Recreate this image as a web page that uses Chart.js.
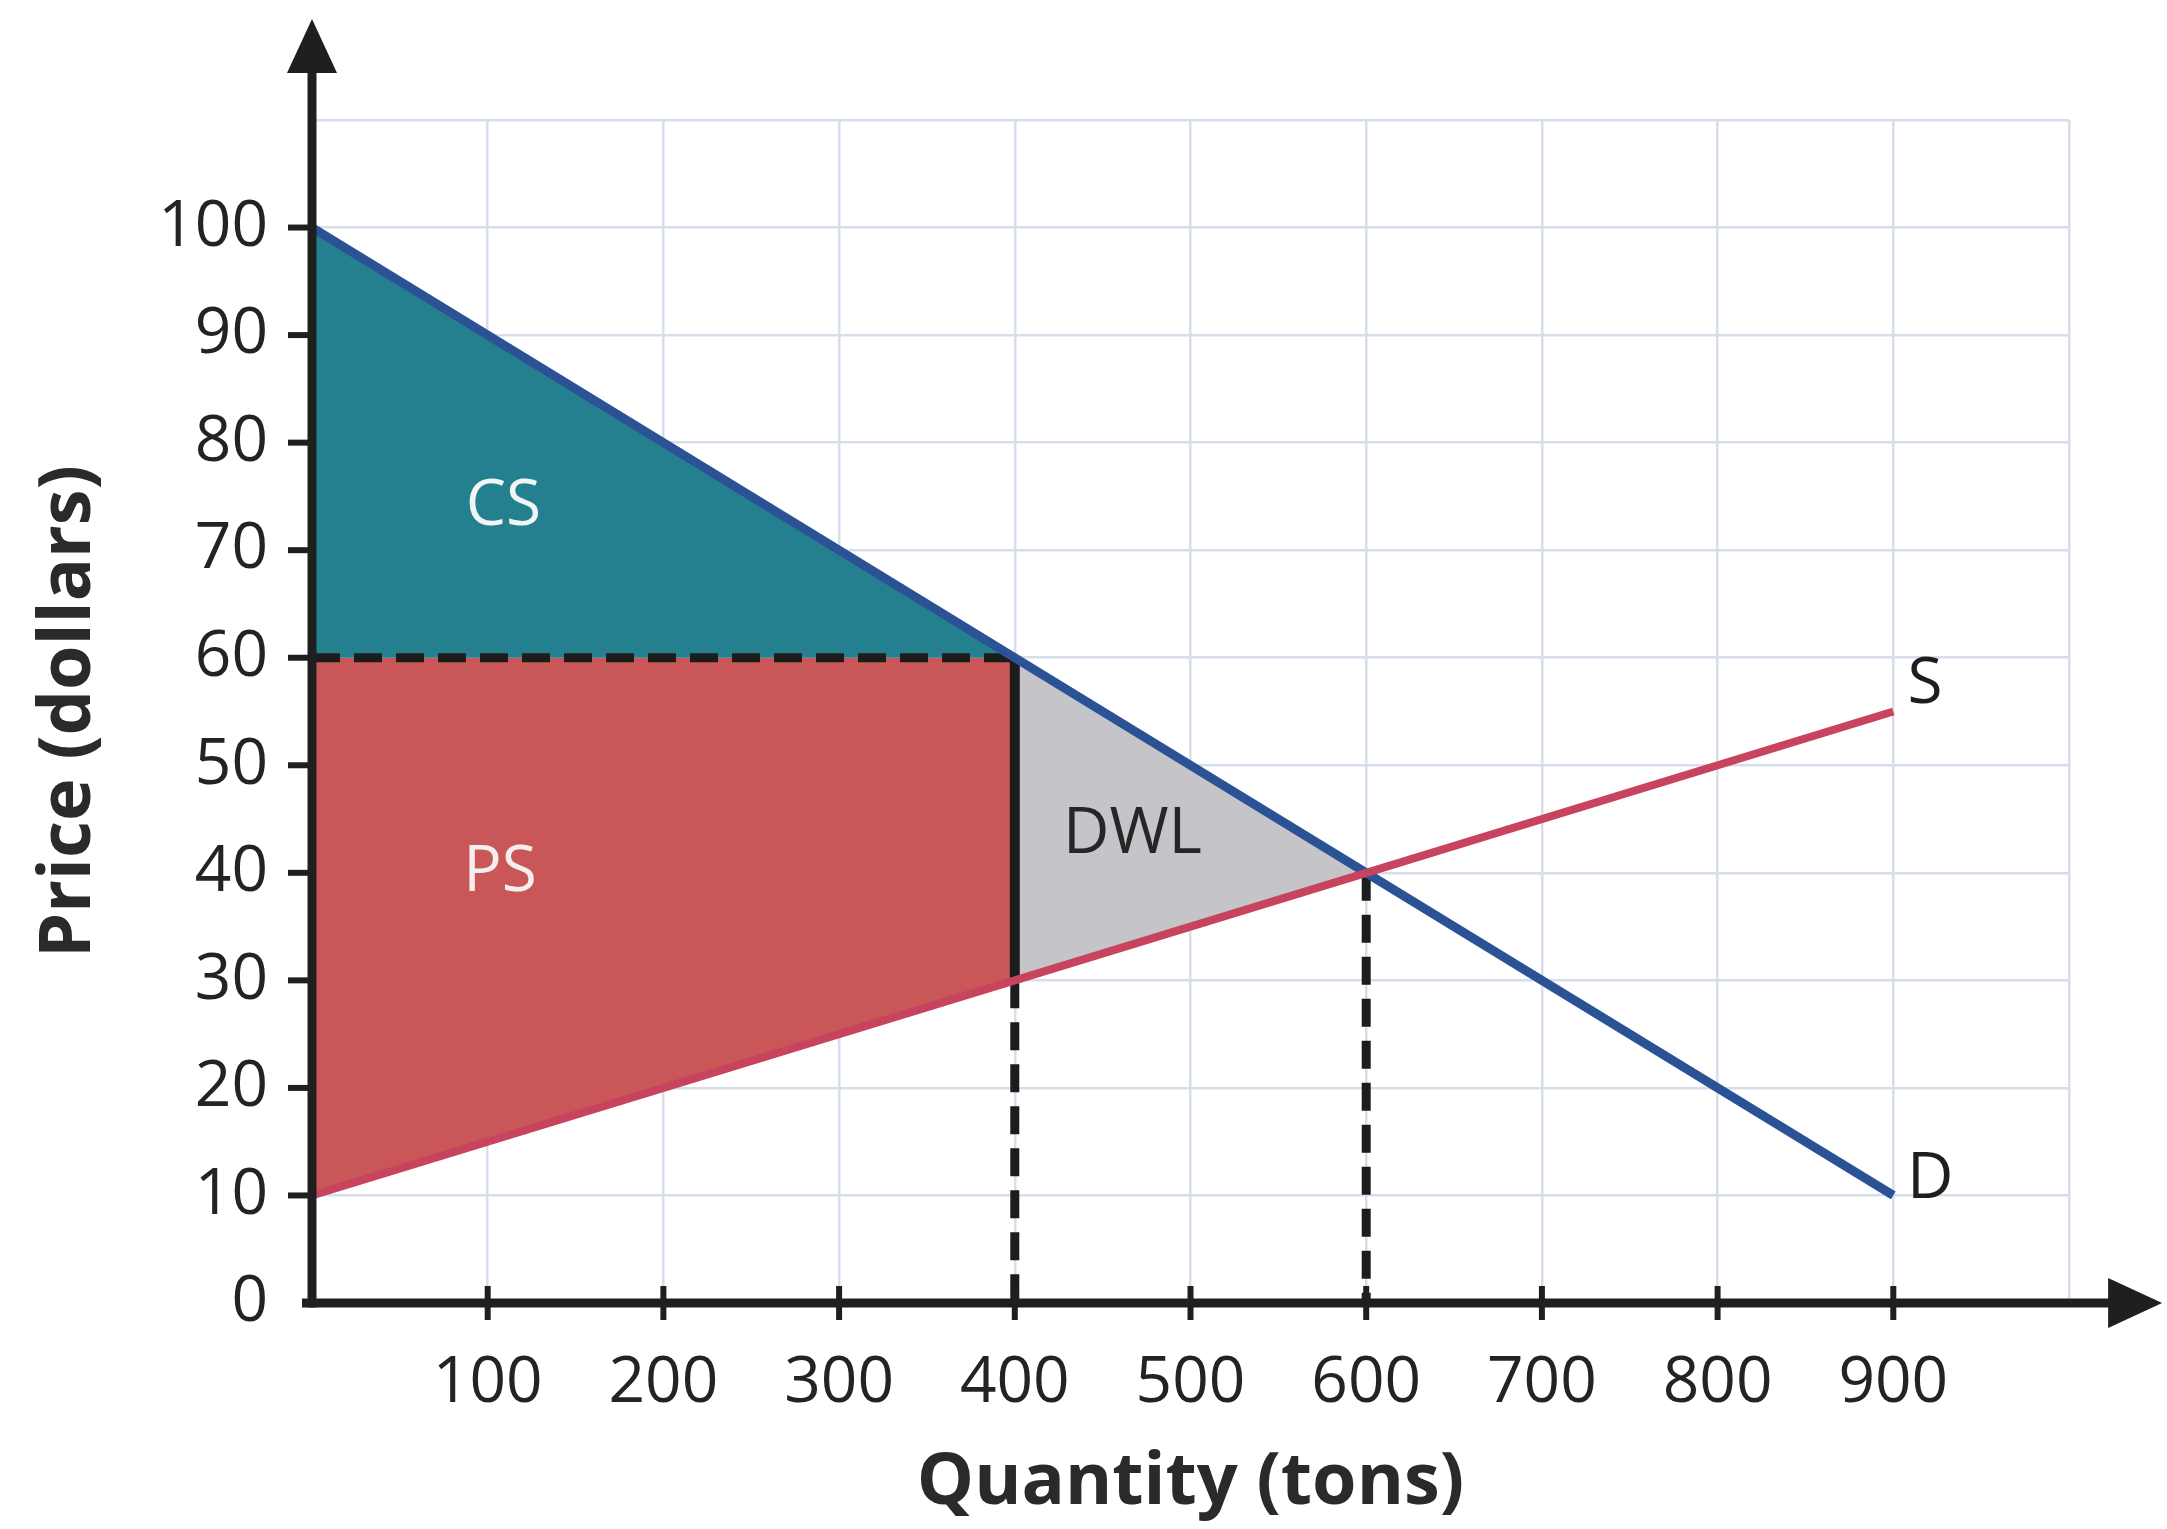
<!DOCTYPE html>
<html>
<head>
<meta charset="utf-8">
<script src="https://cdn.jsdelivr.net/npm/chart.js@4.4.1/dist/chart.umd.min.js"></script>
<style>
  html, body { margin: 0; padding: 0; background: #ffffff; }
  #wrap { width: 2167px; height: 1529px; }
</style>
</head>
<body>
<div id="wrap"><canvas id="chart" width="2167" height="1529"></canvas></div>
<script>
// Market with a production quota: demand, supply and the surplus areas.
const quantityTicks = [100, 200, 300, 400, 500, 600, 700, 800, 900];
const priceTicks = [0, 10, 20, 30, 40, 50, 60, 70, 80, 90, 100];

const demandQty = [0, 400, 600, 900];
const demandPrice = [100, 60, 40, 10];
const supplyQty = [0, 400, 600, 900];
const supplyPrice = [10, 30, 40, 55];

const quotaQty = 400;          // quantity allowed under the quota
const buyerPrice = 60;         // price buyers pay at the quota
const sellerCost = 30;         // supply price at the quota
const equilibriumQty = 600;
const equilibriumPrice = 40;

const regionNames = ['CS', 'PS', 'DWL', 'S', 'D'];
const regionQty = [109, 107, 467, 918, 921];
const regionPrice = [74, 40, 43.5, 57.5, 11.5];
const regionInk = ['#f1f5f5', '#f4eeee', '#262626', '#1e1e1e', '#1e1e1e'];

const AXIS_END_QTY = 1053;
const AXIS_END_PRICE = 119.4;

const pts = (xs, ys) => xs.map((x, i) => ({ x, y: ys[i] }));
const pick = (xs, ys, lo, hi) => pts(xs, ys).filter(p => p.x >= lo && p.x <= hi);

const TEXT = '#232323';
const FONT = '"Open Sans", "Liberation Sans", sans-serif';

const axesPlugin = {
  id: 'axesPlugin',
  afterDatasetsDraw(chart) {
    const { ctx, scales: { x, y } } = chart;
    const x0 = x.getPixelForValue(0);
    const y0 = y.getPixelForValue(0);
    const xTip = x.getPixelForValue(AXIS_END_QTY);
    const yTip = y.getPixelForValue(AXIS_END_PRICE);
    ctx.save();
    ctx.strokeStyle = '#1f1f1f';
    ctx.fillStyle = '#1f1f1f';
    ctx.lineCap = 'butt';

    // tick marks
    ctx.lineWidth = 6;
    quantityTicks.forEach(v => {
      const px = x.getPixelForValue(v);
      ctx.beginPath(); ctx.moveTo(px, y0 - 17); ctx.lineTo(px, y0 + 17); ctx.stroke();
    });
    priceTicks.forEach(v => {
      if (v === 0) return;
      const py = y.getPixelForValue(v);
      ctx.beginPath(); ctx.moveTo(x0 - 24, py); ctx.lineTo(x0, py); ctx.stroke();
    });

    // axis lines
    ctx.lineWidth = 9;
    const head = 54, half = 25;
    ctx.beginPath();
    ctx.moveTo(x0, y0 + 4.5);
    ctx.lineTo(x0, yTip + head - 2);
    ctx.stroke();
    ctx.beginPath();
    ctx.moveTo(x0 - 10, y0);
    ctx.lineTo(xTip - head + 2, y0);
    ctx.stroke();

    // arrow heads
    ctx.beginPath();
    ctx.moveTo(x0, yTip);
    ctx.lineTo(x0 - half, yTip + head);
    ctx.lineTo(x0 + half, yTip + head);
    ctx.closePath(); ctx.fill();
    ctx.beginPath();
    ctx.moveTo(xTip, y0);
    ctx.lineTo(xTip - head, y0 - half);
    ctx.lineTo(xTip - head, y0 + half);
    ctx.closePath(); ctx.fill();

    // region and curve labels
    ctx.font = '64px ' + FONT;
    ctx.textAlign = 'center';
    ctx.textBaseline = 'middle';
    regionNames.forEach((name, i) => {
      ctx.fillStyle = regionInk[i];
      ctx.fillText(name, x.getPixelForValue(regionQty[i]), y.getPixelForValue(regionPrice[i]));
    });
    ctx.restore();
  }
};

const lineBase = { showLine: true, pointRadius: 0, pointHoverRadius: 0, tension: 0, borderCapStyle: 'butt' };
const DASH = [28, 14];

const datasets = [
  // curves, drawn on top
  Object.assign({}, lineBase, {
    label: 'S', data: pts(supplyQty, supplyPrice),
    borderColor: '#c8435d', borderWidth: 8, fill: false, order: 1
  }),
  Object.assign({}, lineBase, {
    label: 'D', data: pts(demandQty, demandPrice),
    borderColor: '#2c5296', borderWidth: 9, fill: false, order: 1
  }),
  // guide lines at the quota and at equilibrium
  Object.assign({}, lineBase, {
    label: 'quota price', data: [{ x: 0, y: buyerPrice }, { x: quotaQty, y: buyerPrice }],
    borderColor: '#1c1c1c', borderWidth: 9, borderDash: DASH, fill: false, order: 2
  }),
  Object.assign({}, lineBase, {
    label: 'quota wedge', data: [{ x: quotaQty, y: buyerPrice }, { x: quotaQty, y: sellerCost }],
    borderColor: '#1c1c1c', borderWidth: 10, fill: false, order: 2
  }),
  Object.assign({}, lineBase, {
    label: 'quota qty', data: [{ x: quotaQty, y: sellerCost }, { x: quotaQty, y: 0 }],
    borderColor: '#1c1c1c', borderWidth: 9, borderDash: DASH, fill: false, order: 2
  }),
  Object.assign({}, lineBase, {
    label: 'equilibrium qty', data: [{ x: equilibriumQty, y: equilibriumPrice }, { x: equilibriumQty, y: 0 }],
    borderColor: '#1c1c1c', borderWidth: 9, borderDash: DASH, fill: false, order: 2
  }),
  // consumer surplus
  Object.assign({}, lineBase, {
    label: 'CS', data: pick(demandQty, demandPrice, 0, quotaQty),
    borderWidth: 0, borderColor: 'rgba(0,0,0,0)', backgroundColor: '#24808e',
    fill: { value: buyerPrice }, order: 5
  }),
  // producer surplus
  Object.assign({}, lineBase, {
    label: 'PS', data: pick(supplyQty, supplyPrice, 0, quotaQty),
    borderWidth: 0, borderColor: 'rgba(0,0,0,0)', backgroundColor: '#c95757',
    fill: { value: buyerPrice }, order: 5
  }),
  // deadweight loss: between demand and supply from the quota to equilibrium
  Object.assign({}, lineBase, {
    label: 'DWL', data: pick(demandQty, demandPrice, quotaQty, equilibriumQty),
    borderWidth: 0, borderColor: 'rgba(0,0,0,0)', backgroundColor: '#c5c4c9',
    fill: '+1', order: 5
  }),
  Object.assign({}, lineBase, {
    label: 'supply edge', data: pick(supplyQty, supplyPrice, quotaQty, equilibriumQty),
    borderWidth: 0, borderColor: 'rgba(0,0,0,0)', fill: false, order: 6
  })
];

new Chart(document.getElementById('chart'), {
  type: 'scatter',
  data: { datasets },
  options: {
    responsive: false,
    animation: false,
    events: [],
    layout: { padding: { top: 120, right: 98, left: 0, bottom: 0 } },
    plugins: { legend: { display: false }, tooltip: { enabled: false } },
    scales: {
      x: {
        type: 'linear', min: 0, max: 1000,
        afterFit(scale) { scale.height = 226; },
        grid: { color: '#d6deec', lineWidth: 2.5, drawTicks: false },
        border: { display: false },
        ticks: {
          stepSize: 100, padding: 42, color: TEXT,
          font: { family: FONT, size: 64 },
          callback: v => (quantityTicks.includes(v) ? String(v) : '')
        },
        title: {
          display: true, text: 'Quantity (tons)', color: '#2a2a2a',
          font: { family: FONT, size: 72, weight: 'bold' },
          padding: { top: 0, bottom: 2 }
        }
      },
      y: {
        type: 'linear', min: 0, max: 110,
        afterFit(scale) { scale.width = 312; },
        grid: { color: '#d6deec', lineWidth: 2.5, drawTicks: false },
        border: { display: false },
        ticks: {
          stepSize: 10, padding: 44, color: TEXT,
          font: { family: FONT, size: 64 },
          callback: v => (priceTicks.includes(v) ? String(v) : '')
        },
        title: {
          display: true, text: 'Price (dollars)', color: '#2a2a2a',
          font: { family: FONT, size: 72, weight: 'bold' },
          padding: { top: 26, bottom: 0 }
        }
      }
    }
  },
  plugins: [axesPlugin]
});
</script>
</body>
</html>
